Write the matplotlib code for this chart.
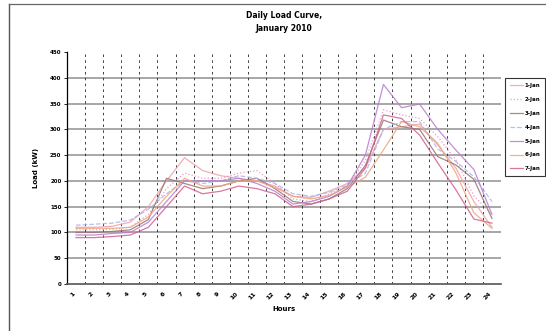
import numpy as np
import matplotlib
matplotlib.use('Agg')
import matplotlib.pyplot as plt
from matplotlib.lines import Line2D

# hourly load readings (kW)
hours = list(range(1, 25))
seriesNames = ['1-Jan', '2-Jan', '3-Jan', '4-Jan', '5-Jan', '6-Jan', '7-Jan']

jan1 = [110, 110, 112, 120, 150, 200, 245, 220, 210, 205, 200, 190, 170, 168, 180, 195, 225, 300, 305, 310, 270, 225, 160, 110]
jan2 = [105, 105, 106, 110, 135, 185, 215, 205, 205, 215, 220, 195, 165, 160, 175, 190, 240, 338, 328, 321, 286, 241, 171, 135]
jan3 = [100, 100, 102, 105, 125, 205, 195, 185, 190, 200, 205, 185, 160, 155, 165, 185, 230, 318, 305, 300, 247, 231, 203, 127]
jan4 = [114, 116, 118, 124, 145, 175, 200, 195, 200, 210, 205, 195, 175, 170, 178, 192, 215, 300, 315, 315, 262, 238, 208, 160]
jan5 = [95, 95, 98, 100, 120, 160, 200, 200, 200, 205, 195, 180, 155, 160, 170, 190, 250, 387, 342, 349, 300, 260, 222, 135]
jan6 = [108, 108, 108, 110, 130, 170, 205, 190, 190, 200, 200, 187, 170, 165, 172, 188, 207, 260, 315, 305, 273, 216, 138, 108]
jan7 = [90, 90, 92, 95, 110, 150, 190, 175, 180, 190, 185, 175, 150, 155, 165, 180, 225, 328, 321, 289, 235, 183, 126, 118]

allSeries = [jan1, jan2, jan3, jan4, jan5, jan6, jan7]
colors = ['#f0a0a8', '#e48cc4', '#9a7472', '#a8b4e8', '#b77ccf', '#eaa67c', '#d0608e']
styles = ['-', ':', '-', '--', '-', '-', '-']

yTicks = list(range(0, 451, 50))

fig = plt.figure(figsize=(5.46, 3.31), dpi=100)
ax = fig.add_axes([67/546, 1-284/331, (501-67)/546, (284-52)/331])

# gridlines first so the curves sit on top
for v in yTicks[1:-1]:
	ax.axhline(v, color='#909090', lw=1.1, zorder=1)
for b in np.arange(1.5, 24.5, 1.0):
	ax.axvline(b, color='#202020', lw=0.6, ls=(0, (3, 4)), zorder=1)

for name, vals, c, s in zip(seriesNames, allSeries, colors, styles):
	ax.plot(hours, vals, color=c, ls=s, lw=0.9, alpha=0.85, label=name, zorder=3)

ax.set_xlim(0.5, 24.5)
ax.set_ylim(0, 450)
ax.set_yticks(yTicks)
ax.set_yticklabels([str(v) for v in yTicks], fontsize=4, fontweight='bold')
ax.set_xticks(hours)
ax.set_xticklabels([str(h) for h in hours], fontsize=4.5, fontweight='bold', rotation=45, ha='right', va='top')
ax.tick_params(axis='x', length=0, pad=5)
ax.tick_params(axis='y', length=2, width=0.6, pad=2)

for side in ['top', 'right']:
	ax.spines[side].set_visible(False)
ax.spines['left'].set_linewidth(0.9)
ax.spines['bottom'].set_linewidth(1.2)
ax.spines['bottom'].set_color('#555555')

ax.set_ylabel('Load (kW)', fontsize=5, fontweight='bold', labelpad=8)
ax.set_xlabel('Hours', fontsize=5, fontweight='bold', labelpad=4)

fig.text(284/546, 1-22/331, 'Daily Load Curve,\nJanuary 2010', ha='center', va='center',
	fontsize=5.5, fontweight='bold', linespacing=1.6)

leg = ax.legend(loc='upper left', bbox_to_anchor=(505/546, 1-78/331), bbox_transform=fig.transFigure,
	fontsize=4, frameon=True, fancybox=False, edgecolor='black', handlelength=2.4,
	labelspacing=1.6, borderpad=0.9, handletextpad=0.2, borderaxespad=0)
leg.get_frame().set_linewidth(0.8)
for t in leg.get_texts():
	t.set_fontweight('bold')

# page border left over from the scan
fig.add_artist(Line2D([9/546, 9/546], [0, 1-4/331], color='#555555', lw=1.0, transform=fig.transFigure))
fig.add_artist(Line2D([9/546, 1], [1-4/331, 1-4/331], color='#666666', lw=0.9, transform=fig.transFigure))

fig.savefig('out.png', dpi=100)
